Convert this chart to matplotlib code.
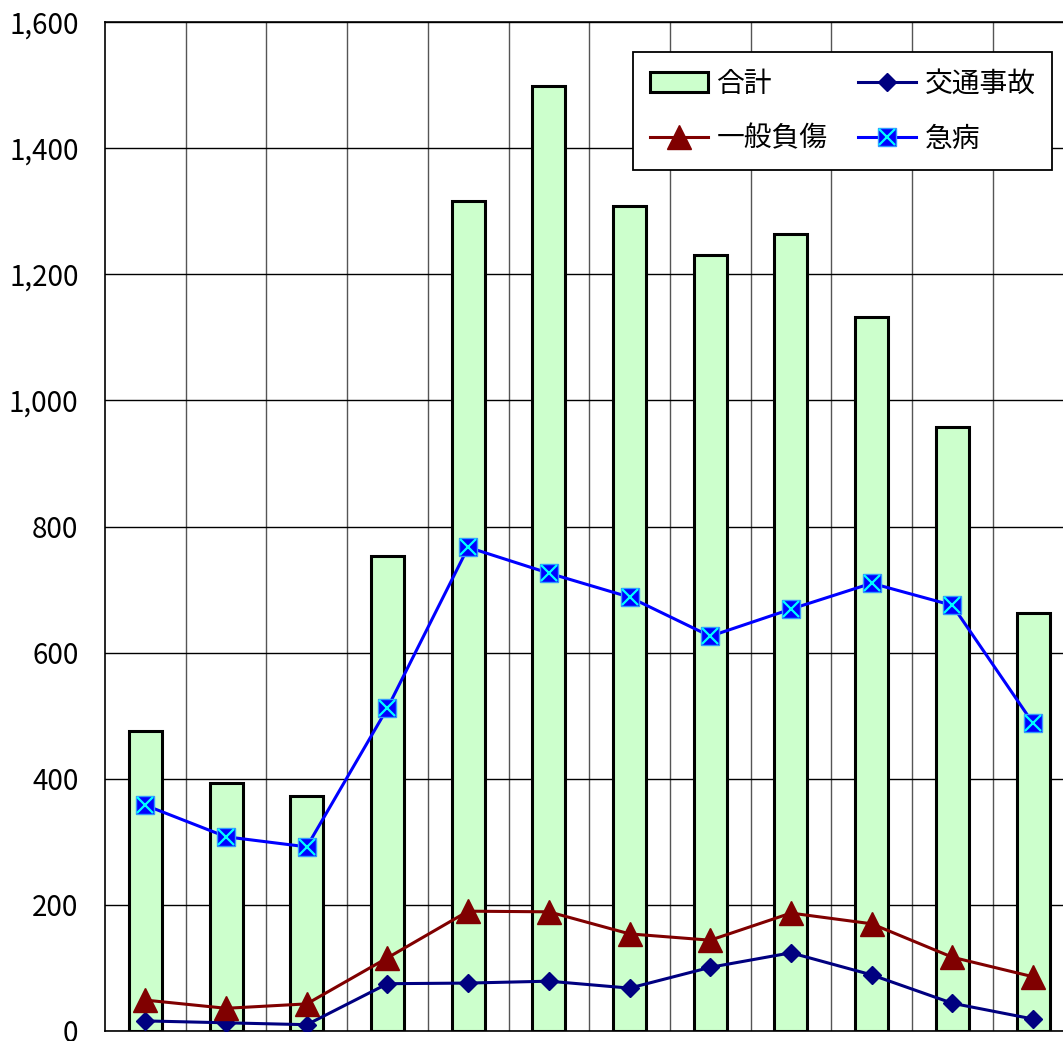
import numpy as np
import matplotlib
matplotlib.use("Agg")
import matplotlib.pyplot as plt
from matplotlib.ticker import FuncFormatter, MultipleLocator
from matplotlib.legend_handler import HandlerTuple

plt.rcParams['font.family'] = ['Noto Sans CJK JP', 'DejaVu Sans']

# Data (12 categories, x labels cut off in the source)
categories = list(range(12))
total = [475, 394, 372, 753, 1316, 1498, 1308, 1230, 1264, 1132, 958, 663]
traffic = [16, 13, 10, 75, 76, 79, 68, 101, 124, 89, 44, 19]
injury = [49, 36, 43, 116, 190, 189, 154, 144, 187, 170, 117, 86]
illness = [358, 308, 292, 512, 767, 726, 688, 626, 669, 710, 675, 488]

W, H = 1063, 1041
fig = plt.figure(figsize=(W / 100, H / 100), dpi=100)
ax = fig.add_axes([105 / W, 10 / H, 968.4 / W, 1009 / H])

x = np.arange(len(categories))

bars = ax.bar(x, total, width=0.41, color='#CCFFCC', edgecolor='black',
              linewidth=2.2, zorder=2, label='合計')

l_traffic, = ax.plot(x, traffic, color='#000080', lw=2.2, marker='D',
                     markersize=9, zorder=3, label='交通事故')
l_injury, = ax.plot(x, injury, color='#800000', lw=2.2, marker='^',
                    markersize=17, zorder=3, label='一般負傷')
l_ill, = ax.plot(x, illness, color='#0000FF', lw=2.2, marker='s',
                 markersize=13, markerfacecolor='#0000FF',
                 markeredgecolor='#3399FF', markeredgewidth=1, zorder=3)
l_ill_x, = ax.plot(x, illness, linestyle='none', marker='x', markersize=11,
                   markeredgecolor='#00FFFF', markeredgewidth=1.6, zorder=4)

ax.set_xlim(-0.5, 11.5)
ax.set_ylim(0, 1600)
ax.yaxis.set_major_locator(MultipleLocator(200))
ax.yaxis.set_major_formatter(FuncFormatter(lambda v, p: f"{int(v):,}"))
ax.set_xticks([])
ax.set_xticks(x[:-1] + 0.5, minor=True)
ax.tick_params(axis='x', which='both', length=0, labelbottom=False)
ax.tick_params(axis='y', length=0, pad=19, labelsize=20)

ax.grid(axis='y', which='major', color='black', lw=1.0, zorder=0)
ax.grid(axis='x', which='minor', color='#555555', lw=1.0, zorder=0)
ax.set_axisbelow(True)

for s in ['left', 'top', 'bottom', 'right']:
    ax.spines[s].set_color('black')
    ax.spines[s].set_linewidth(1.2)

leg = fig.legend([bars, l_injury, l_traffic, (l_ill, l_ill_x)],
                 ['合計', '一般負傷', '交通事故', '急病'],
                 handler_map={tuple: HandlerTuple(ndivide=1, pad=0)},
                 loc='upper left', bbox_to_anchor=(633 / W, 1 - 52 / H),
                 ncol=2, fontsize=20, frameon=True, fancybox=False,
                 framealpha=1, edgecolor='black', handlelength=2.1,
                 handletextpad=0.3, columnspacing=1.1, labelspacing=0.9,
                 borderpad=0.6, borderaxespad=0)
leg.get_frame().set_linewidth(1.3)

fig.savefig('out.png', dpi=100)
